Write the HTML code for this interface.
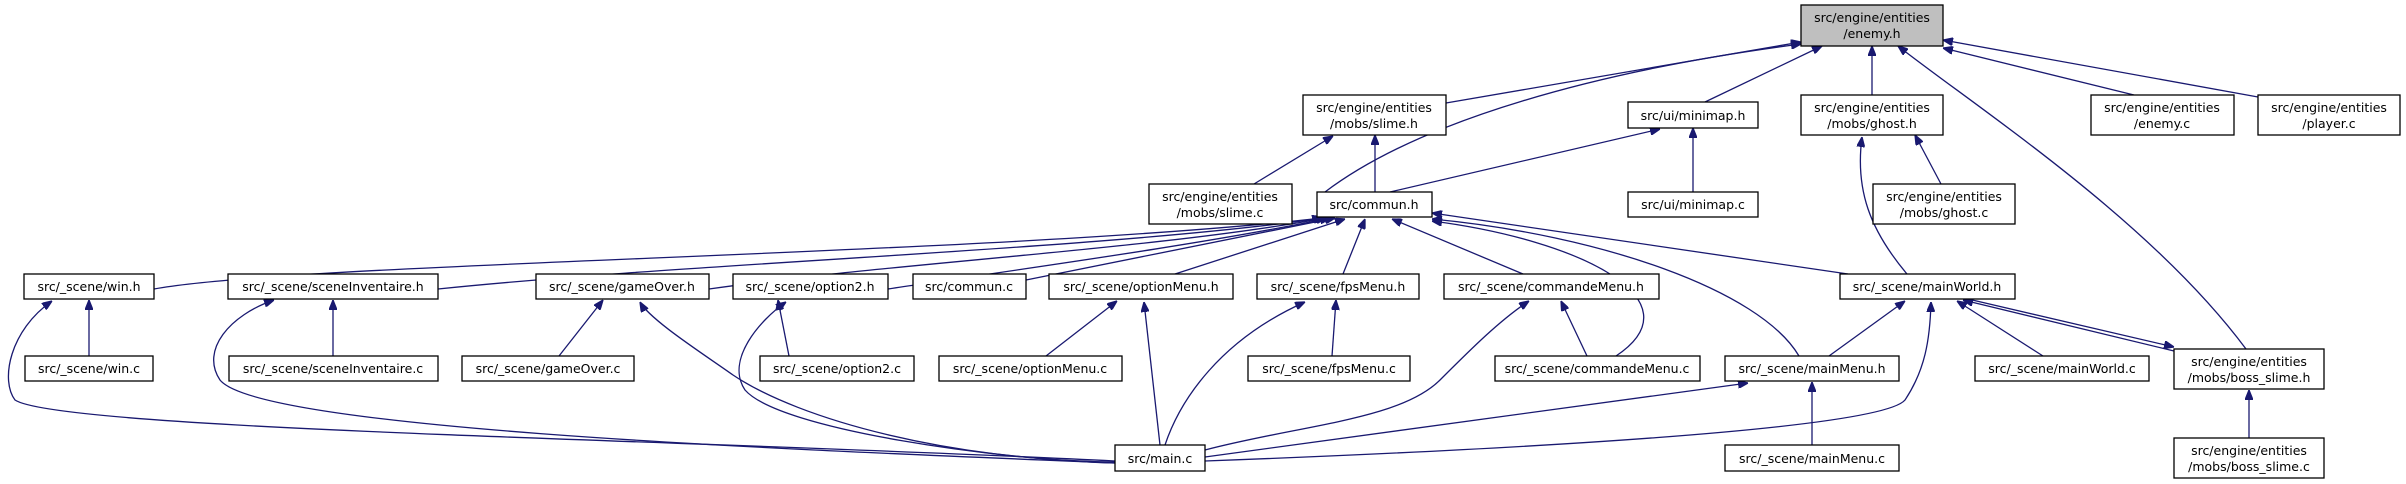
<!DOCTYPE html>
<html><head><meta charset="utf-8"><style>
html,body{margin:0;padding:0;background:#fff;}
svg{display:block;}
text{font-family:"DejaVu Sans","Liberation Sans",sans-serif;font-size:12.5px;fill:#000;text-anchor:middle;}
rect{fill:#fff;stroke:#000;stroke-width:1.3;}
path{fill:none;stroke:#191970;stroke-width:1.3;}
</style></head><body>
<svg width="2406" height="484" viewBox="0 0 2406 484" xmlns="http://www.w3.org/2000/svg">
<defs><marker id="a" viewBox="0 0 10 8" refX="10" refY="4" markerWidth="10" markerHeight="8" markerUnits="userSpaceOnUse" orient="auto"><path d="M0,0 L10,4 L0,8 z" style="fill:#191970;stroke:#191970"/></marker></defs>
<g marker-end="url(#a)">
<path d="M1446,103 L1801,42"/>
<path d="M1325,192 C1420,120 1600,70 1801,44"/>
<path d="M1705,102 L1822,46"/>
<path d="M1872,95 L1872,46"/>
<path d="M2246,349 C2150,220 1980,110 1898,46"/>
<path d="M2134,95 L1943,48"/>
<path d="M2258,97 L1943,40"/>
<path d="M1254,184 L1333,136"/>
<path d="M1375,192 L1375,135"/>
<path d="M1390,192 L1660,129"/>
<path d="M1693,192 L1693,128"/>
<path d="M1941,184 L1915,135"/>
<path d="M1907,274 C1870,230 1855,190 1862,137"/>
<path d="M154,289 C300,262 1000,255 1322,218"/>
<path d="M438,289 C700,262 1100,250 1324,218"/>
<path d="M709,289 C900,262 1150,250 1326,218"/>
<path d="M888,289 C1000,272 1200,245 1330,218"/>
<path d="M1026,280 L1335,218"/>
<path d="M1175,274 L1345,219"/>
<path d="M1343,274 L1365,219"/>
<path d="M1523,274 L1392,219"/>
<path d="M1616,356 C1700,300 1580,240 1432,221"/>
<path d="M1799,356 C1760,290 1600,235 1432,219"/>
<path d="M1848,274 L1432,213"/>
<path d="M89,356 L89,300"/>
<path d="M333,356 L333,300"/>
<path d="M559,356 L603,300"/>
<path d="M789,356 L778,300"/>
<path d="M1046,356 L1117,301"/>
<path d="M1332,356 L1336,300"/>
<path d="M1587,356 L1561,301"/>
<path d="M1829,356 L1905,301"/>
<path d="M2043,356 L1957,301"/>
<path d="M2174,351 L1963,300"/>
<path d="M1968,299 L2174,347"/>
<path d="M1812,445 L1812,382"/>
<path d="M2249,438 L2249,390"/>
<path d="M1115,461 C700,440 60,430 15,400 C0,380 10,330 52,301"/>
<path d="M1115,463 C800,450 260,430 220,380 C200,350 230,315 274,300"/>
<path d="M1115,462 C950,460 800,420 733,375 C705,355 650,320 640,302"/>
<path d="M1115,463 C1000,460 780,430 745,390 C725,360 760,320 786,302"/>
<path d="M1160,445 L1144,302"/>
<path d="M1165,445 C1180,400 1220,340 1305,302"/>
<path d="M1205,450 C1300,425 1400,420 1440,380 C1470,350 1500,320 1529,301"/>
<path d="M1205,457 L1748,383"/>
<path d="M1205,461 C1500,450 1880,430 1905,400 C1925,370 1930,340 1931,302"/>
</g>
<rect x="1801" y="5" width="142" height="41" style="fill:#bfbfbf"/><text x="1872" y="22">src/engine/entities</text><text x="1872" y="38">/enemy.h</text>
<rect x="1303" y="95" width="143" height="40"/><text x="1374" y="112">src/engine/entities</text><text x="1374" y="128">/mobs/slime.h</text>
<rect x="1628" y="102" width="130" height="26"/><text x="1693" y="120">src/ui/minimap.h</text>
<rect x="1801" y="95" width="142" height="40"/><text x="1872" y="112">src/engine/entities</text><text x="1872" y="128">/mobs/ghost.h</text>
<rect x="2091" y="95" width="143" height="40"/><text x="2162" y="112">src/engine/entities</text><text x="2162" y="128">/enemy.c</text>
<rect x="2258" y="95" width="142" height="40"/><text x="2329" y="112">src/engine/entities</text><text x="2329" y="128">/player.c</text>
<rect x="1149" y="184" width="143" height="40"/><text x="1220" y="201">src/engine/entities</text><text x="1220" y="217">/mobs/slime.c</text>
<rect x="1317" y="192" width="115" height="25"/><text x="1374" y="209">src/commun.h</text>
<rect x="1628" y="192" width="130" height="25"/><text x="1693" y="209">src/ui/minimap.c</text>
<rect x="1873" y="184" width="142" height="40"/><text x="1944" y="201">src/engine/entities</text><text x="1944" y="217">/mobs/ghost.c</text>
<rect x="24" y="274" width="130" height="25"/><text x="89" y="291">src/_scene/win.h</text>
<rect x="228" y="274" width="210" height="25"/><text x="333" y="291">src/_scene/sceneInventaire.h</text>
<rect x="536" y="274" width="173" height="25"/><text x="622" y="291">src/_scene/gameOver.h</text>
<rect x="733" y="274" width="155" height="25"/><text x="810" y="291">src/_scene/option2.h</text>
<rect x="913" y="274" width="113" height="25"/><text x="969" y="291">src/commun.c</text>
<rect x="1049" y="274" width="184" height="25"/><text x="1141" y="291">src/_scene/optionMenu.h</text>
<rect x="1257" y="274" width="162" height="25"/><text x="1338" y="291">src/_scene/fpsMenu.h</text>
<rect x="1444" y="274" width="215" height="25"/><text x="1551" y="291">src/_scene/commandeMenu.h</text>
<rect x="1840" y="274" width="175" height="25"/><text x="1927" y="291">src/_scene/mainWorld.h</text>
<rect x="25" y="356" width="128" height="25"/><text x="89" y="373">src/_scene/win.c</text>
<rect x="229" y="356" width="209" height="25"/><text x="333" y="373">src/_scene/sceneInventaire.c</text>
<rect x="462" y="356" width="172" height="25"/><text x="548" y="373">src/_scene/gameOver.c</text>
<rect x="760" y="356" width="154" height="25"/><text x="837" y="373">src/_scene/option2.c</text>
<rect x="939" y="356" width="183" height="25"/><text x="1030" y="373">src/_scene/optionMenu.c</text>
<rect x="1248" y="356" width="162" height="25"/><text x="1329" y="373">src/_scene/fpsMenu.c</text>
<rect x="1495" y="356" width="205" height="25"/><text x="1597" y="373">src/_scene/commandeMenu.c</text>
<rect x="1725" y="356" width="174" height="25"/><text x="1812" y="373">src/_scene/mainMenu.h</text>
<rect x="1975" y="356" width="174" height="25"/><text x="2062" y="373">src/_scene/mainWorld.c</text>
<rect x="2174" y="349" width="150" height="40"/><text x="2249" y="366">src/engine/entities</text><text x="2249" y="382">/mobs/boss_slime.h</text>
<rect x="1115" y="445" width="90" height="26"/><text x="1160" y="463">src/main.c</text>
<rect x="1725" y="445" width="174" height="26"/><text x="1812" y="463">src/_scene/mainMenu.c</text>
<rect x="2174" y="438" width="150" height="40"/><text x="2249" y="455">src/engine/entities</text><text x="2249" y="471">/mobs/boss_slime.c</text>
</svg>
</body></html>
